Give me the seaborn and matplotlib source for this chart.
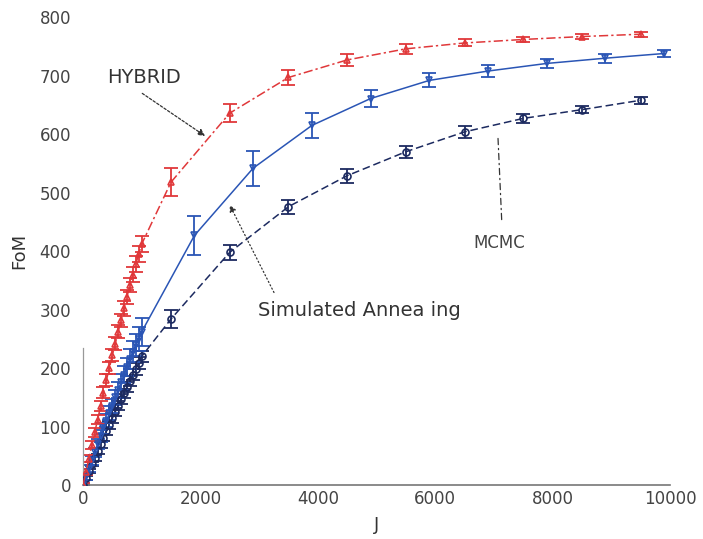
import numpy as np
import pandas as pd
import matplotlib
matplotlib.use("Agg")
import matplotlib.pyplot as plt
import seaborn as sns

# ---- data ----
dense_x = [0, 50, 100, 150, 200, 250, 300, 350, 400, 450, 500, 550, 600, 650, 700,
           750, 800, 850, 900, 950, 1000]

hybrid_x = dense_x + [1500, 2500, 3500, 4500, 5500, 6500, 7500, 8500, 9500]
hybrid_y = [0, 22, 45, 68, 90, 112, 135, 158, 180, 200, 222, 242, 262, 282, 302,
            322, 342, 360, 378, 395, 412,
            518, 636, 697, 727, 746, 756, 762, 767, 771]
hybrid_err = [3, 5, 6, 7, 8, 8, 9, 9, 10, 10, 10, 11, 11, 11, 12,
              12, 12, 13, 13, 14, 14,
              24, 15, 12, 10, 8, 6, 5, 5, 4]

sa_x = dense_x + [1900, 2900, 3900, 4900, 5900, 6900, 7900, 8900, 9900]
sa_y = [0, 14, 28, 42, 56, 70, 84, 97, 110, 123, 136, 150, 163, 176, 189,
        202, 215, 228, 240, 250, 262,
        427, 542, 615, 661, 692, 708, 721, 730, 738]
sa_err = [3, 5, 6, 7, 8, 9, 10, 10, 11, 12, 12, 13, 14, 14, 15,
          16, 17, 18, 19, 20, 24,
          33, 30, 22, 15, 12, 10, 8, 8, 6]

mcmc_x = dense_x + [1500, 2500, 3500, 4500, 5500, 6500, 7500, 8500, 9500]
mcmc_y = [0, 12, 24, 36, 47, 58, 70, 81, 92, 103, 114, 125, 136, 147, 157,
          168, 178, 189, 199, 209, 220,
          284, 398, 476, 529, 570, 604, 627, 642, 658]
mcmc_err = [2, 3, 4, 4, 5, 5, 6, 6, 6, 7, 7, 7, 8, 8, 8,
            9, 9, 9, 10, 10, 10,
            15, 13, 12, 12, 10, 10, 8, 6, 6]

x_ticks = [0, 2000, 4000, 6000, 8000, 10000]
y_ticks = [0, 100, 200, 300, 400, 500, 600, 700, 800]

RED = "#e0383a"
BLUE = "#2a55b5"
NAVY = "#1c2a60"

sns.set_theme(style="white")
plt.rcParams["font.family"] = ["DejaVu Sans"]

fig = plt.figure(figsize=(7.03, 5.39), dpi=100)
ax = fig.add_axes([0.118, 0.100, 0.835, 0.868])

df = pd.concat([
    pd.DataFrame({"J": hybrid_x, "FoM": hybrid_y, "err": hybrid_err, "method": "HYBRID"}),
    pd.DataFrame({"J": sa_x, "FoM": sa_y, "err": sa_err, "method": "SA"}),
    pd.DataFrame({"J": mcmc_x, "FoM": mcmc_y, "err": mcmc_err, "method": "MCMC"}),
], ignore_index=True)

styles = {
    "HYBRID": dict(color=RED, ls=(0, (6, 2, 1.5, 2)), marker="^"),
    "SA": dict(color=BLUE, ls="-", marker="v"),
    "MCMC": dict(color=NAVY, ls=(0, (5, 2.5)), marker="o"),
}

for m in ["MCMC", "SA", "HYBRID"]:
    sub = df[df["method"] == m]
    st = styles[m]
    ax.errorbar(sub["J"], sub["FoM"], yerr=sub["err"], fmt="none",
                ecolor=st["color"], elinewidth=1.3, capsize=5, capthick=1.3, zorder=2)
    sns.lineplot(data=sub, x="J", y="FoM", ax=ax, color=st["color"],
                 linestyle=st["ls"], linewidth=1.1, marker=st["marker"],
                 markersize=5, markeredgecolor=st["color"], markerfacecolor="none",
                 markeredgewidth=1.2, estimator=None, sort=False, zorder=3)

ax.set_xlim(0, 10000)
ax.set_ylim(0, 800)
ax.set_xticks(x_ticks)
ax.set_yticks(y_ticks)
ax.set_xticklabels([str(v) for v in x_ticks])
ax.set_yticklabels([str(v) for v in y_ticks])
ax.tick_params(axis="both", labelsize=12, labelcolor="#444444", color="#777777",
               length=4, width=0.8, direction="in")
ax.tick_params(axis="y", direction="out", length=5)

for s in ["top", "right"]:
    ax.spines[s].set_visible(False)
ax.spines["bottom"].set_color("#777777")
ax.spines["bottom"].set_linewidth(1.2)
ax.spines["left"].set_color("#999999")
ax.spines["left"].set_linewidth(0.9)
ax.spines["left"].set_bounds(0, 235)

ax.set_xlabel("J", fontsize=13, color="#333333", labelpad=6)
ax.set_ylabel("FoM", fontsize=13, color="#333333", labelpad=8)

# annotations
ax.annotate("HYBRID", xy=(2080, 597), xytext=(410, 697),
            fontsize=14, color="#333333", va="center", ha="left",
            arrowprops=dict(arrowstyle="-|>", color="#333333", lw=0.9,
                            linestyle=(0, (2, 1.5)), mutation_scale=10,
                            shrinkA=4, shrinkB=0, relpos=(0.35, 0.0)))
ax.annotate("Simulated Annea ing", xy=(2500, 479), xytext=(2980, 299),
            fontsize=14, color="#333333", va="center", ha="left",
            arrowprops=dict(arrowstyle="-|>", color="#333333", lw=0.9,
                            linestyle=(0, (1, 2)), mutation_scale=10,
                            shrinkA=4, shrinkB=0, relpos=(0.1, 1.0)))
ax.annotate("MCMC", xy=(7070, 595), xytext=(7100, 414),
            fontsize=12, color="#444444", va="center", ha="center",
            arrowprops=dict(arrowstyle="-", color="#333333", lw=0.9,
                            linestyle=(0, (5, 3, 1, 3)),
                            shrinkA=8, shrinkB=0, relpos=(0.55, 1.0)))

fig.savefig("out.png", dpi=100)
